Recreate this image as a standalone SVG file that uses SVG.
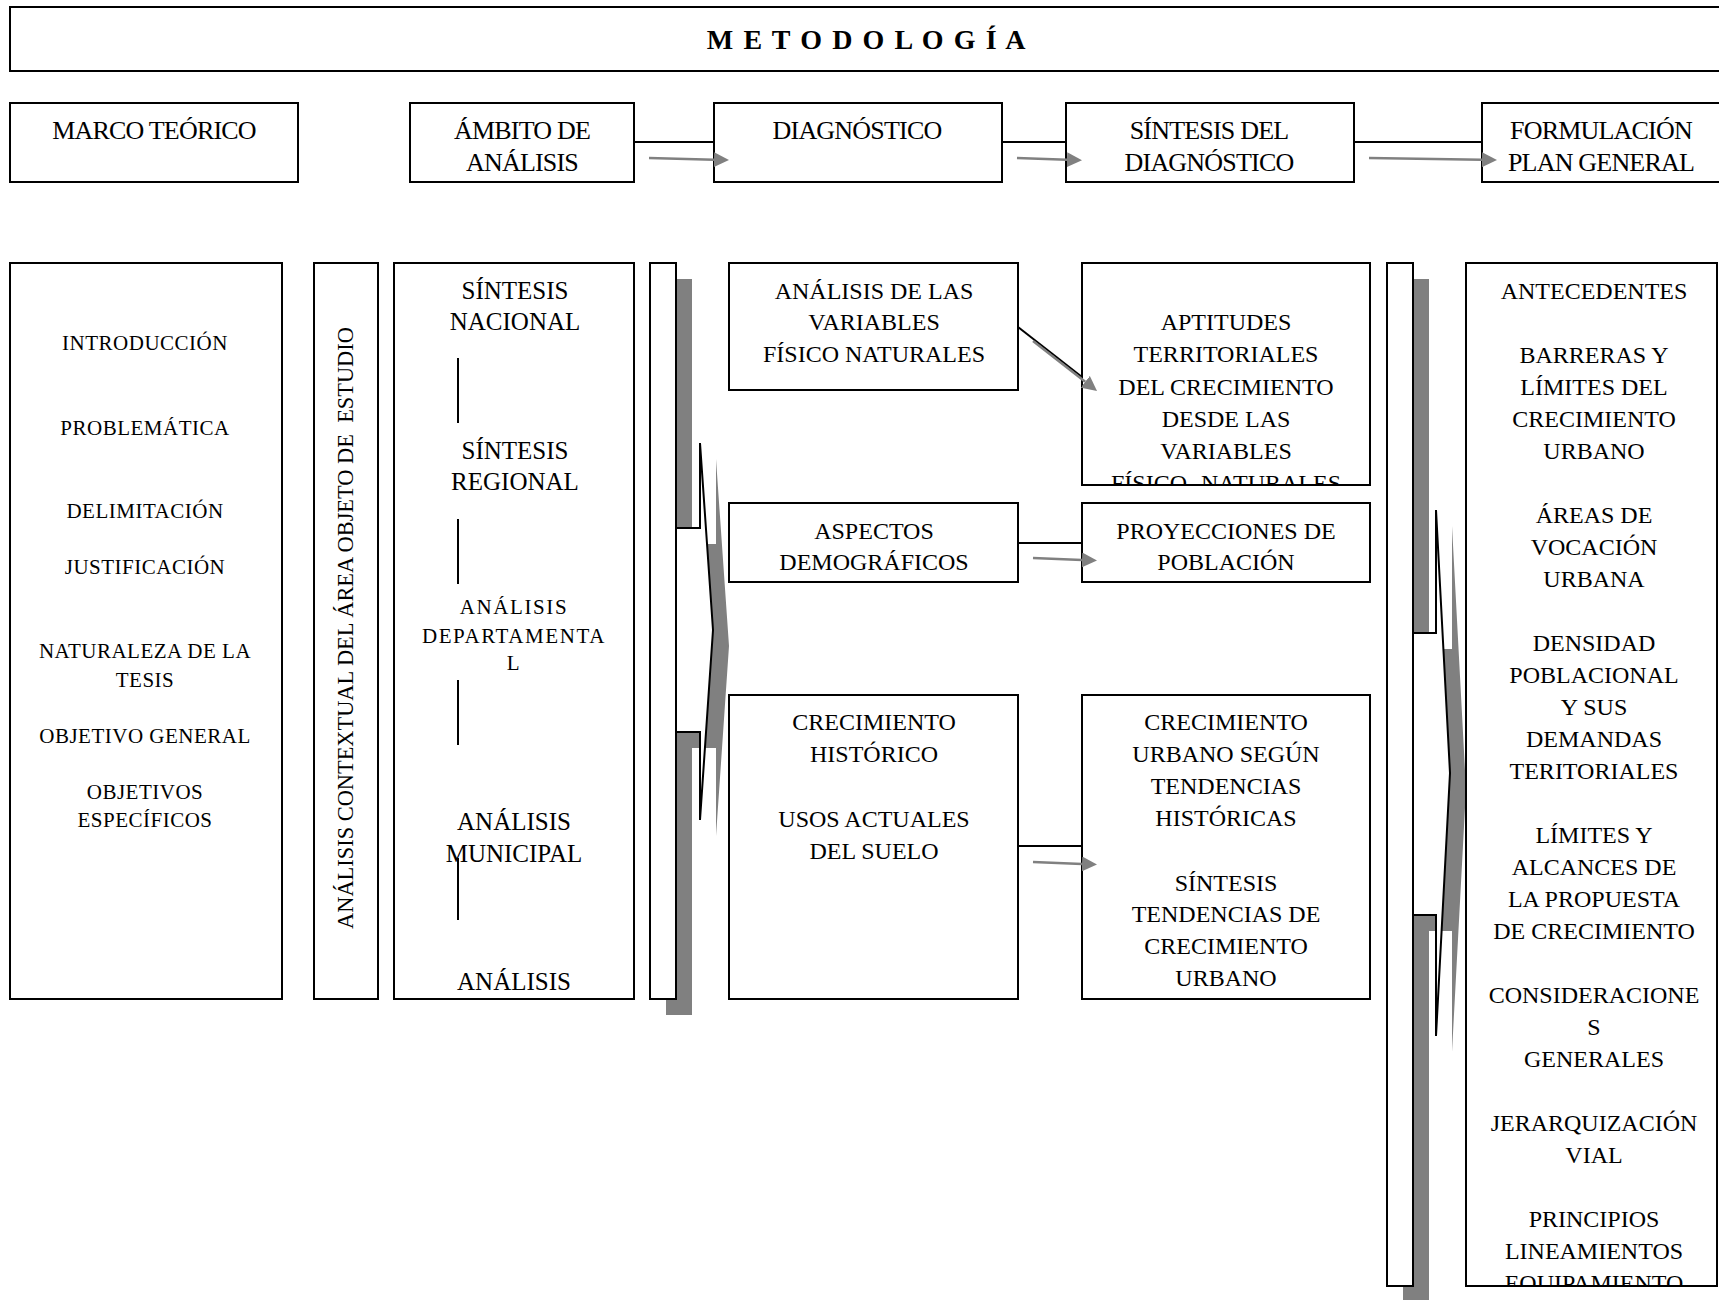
<svg xmlns="http://www.w3.org/2000/svg" width="1719" height="1300" viewBox="0 0 1719 1300">
<style>
.box{fill:#fff;stroke:#000;stroke-width:2}
.sh{fill:#808080;stroke:none}
.t{font-family:"Liberation Serif","Times New Roman",serif;fill:#000;text-anchor:middle}
.f26{font-size:26px;letter-spacing:-0.8px}
.f25{font-size:25px}
.f24{font-size:24px}
.f21{font-size:21px;letter-spacing:0.5px}
.f21w{font-size:21px;letter-spacing:1.6px}
.title{font-size:28px;font-weight:bold;letter-spacing:1.6px}
.conn{stroke:#000;stroke-width:2;fill:none}
.ga{stroke:#808080;stroke-width:2.5;fill:none;marker-end:url(#gh)}
.brace{fill:#fff;stroke:#000;stroke-width:2;stroke-linejoin:miter}
</style>
<defs>
<marker id="gh" markerUnits="userSpaceOnUse" markerWidth="15" markerHeight="15" refX="0" refY="7.5" orient="auto" viewBox="0 0 15 15">
<path d="M0,0 L15,7.5 L0,15 z" fill="#808080"/>
</marker>
<clipPath id="clipApt"><rect x="1083" y="264" width="286" height="220"/></clipPath>
<clipPath id="clipRight"><rect x="1467" y="264" width="249" height="1021"/></clipPath>
</defs>
<rect width="1719" height="1300" fill="#fff"/>

<g id="title">
<rect class="box" x="10" y="7" width="1712" height="64"/>
<text class="t title" x="867" y="49">M E T O D O L O G Í A</text>
</g>

<g id="marco-teorico">
<rect class="box" x="10" y="103" width="288" height="79"/>
<text class="t f26" x="154" y="139">MARCO TEÓRICO</text>
</g>
<g id="ambito">
<rect class="box" x="410" y="103" width="224" height="79"/>
<text class="t f26" x="522" y="139">ÁMBITO DE</text>
<text class="t f26" x="522" y="171">ANÁLISIS</text>
</g>
<g id="diagnostico">
<rect class="box" x="714" y="103" width="288" height="79"/>
<text class="t f26" x="857" y="139">DIAGNÓSTICO</text>
</g>
<g id="sintesis-diagnostico">
<rect class="box" x="1066" y="103" width="288" height="79"/>
<text class="t f26" x="1209" y="139">SÍNTESIS DEL</text>
<text class="t f26" x="1209" y="171">DIAGNÓSTICO</text>
</g>
<g id="formulacion">
<rect class="box" x="1482" y="103" width="240" height="79"/>
<text class="t f26" x="1601" y="139">FORMULACIÓN</text>
<text class="t f26" x="1601" y="171">PLAN GENERAL</text>
</g>

<g id="marco-contenido">
<rect class="box" x="10" y="263" width="272" height="736"/>
<text class="t f21" x="145" y="350">INTRODUCCIÓN</text>
<text class="t f21" x="145" y="435">PROBLEMÁTICA</text>
<text class="t f21" x="145" y="518">DELIMITACIÓN</text>
<text class="t f21" x="145" y="574">JUSTIFICACIÓN</text>
<text class="t f21" x="145" y="658">NATURALEZA DE LA</text>
<text class="t f21" x="145" y="687">TESIS</text>
<text class="t f21" x="145" y="743">OBJETIVO GENERAL</text>
<text class="t f21" x="145" y="799">OBJETIVOS</text>
<text class="t f21" x="145" y="827">ESPECÍFICOS</text>
</g>

<g id="analisis-contextual">
<rect class="box" x="314" y="263" width="64" height="736"/>
<text class="t" font-size="22.4" x="0" y="0" xml:space="preserve" transform="translate(353,628) rotate(-90)">ANÁLISIS CONTEXTUAL DEL ÁREA OBJETO DE  ESTUDIO</text>
</g>

<g id="escalas">
<rect class="box" x="394" y="263" width="240" height="736"/>
<text class="t f25" x="515" y="299">SÍNTESIS</text>
<text class="t f25" x="515" y="330">NACIONAL</text>
<line class="conn" x1="458" y1="358" x2="458" y2="423"/>
<text class="t f25" x="515" y="459">SÍNTESIS</text>
<text class="t f25" x="515" y="490">REGIONAL</text>
<line class="conn" x1="458" y1="519" x2="458" y2="584"/>
<text class="t f21w" x="514" y="614">ANÁLISIS</text>
<text class="t f21w" x="514" y="643">DEPARTAMENTA</text>
<text class="t f21w" x="514" y="670">L</text>
<line class="conn" x1="458" y1="680" x2="458" y2="745"/>
<text class="t f25" x="514" y="830">ANÁLISIS</text>
<text class="t f25" x="514" y="862">MUNICIPAL</text>
<line class="conn" x1="458" y1="858" x2="458" y2="920"/>
<text class="t f25" x="514" y="990">ANÁLISIS</text>
</g>

<g id="llave-1">
<rect class="sh" x="666" y="279" width="26" height="736"/>
<polygon class="sh" points="692,544 716,544 716,459 729,646 716,836 716,748 692,748"/>
<rect class="box" x="650" y="263" width="26" height="736"/>
<polygon class="brace" points="676,528 700,528 700,443 713,630 700,820 700,732 676,732"/>
</g>

<g id="variables-fisico">
<rect class="box" x="729" y="263" width="289" height="127"/>
<text class="t f24" x="874" y="299">ANÁLISIS DE LAS</text>
<text class="t f24" x="874" y="330">VARIABLES</text>
<text class="t f24" x="874" y="362">FÍSICO NATURALES</text>
</g>
<g id="aptitudes">
<rect class="box" x="1082" y="263" width="288" height="222"/>
<g clip-path="url(#clipApt)">
<text class="t f24" x="1226" y="330">APTITUDES</text>
<text class="t f24" x="1226" y="362">TERRITORIALES</text>
<text class="t f24" x="1226" y="395">DEL CRECIMIENTO</text>
<text class="t f24" x="1226" y="427">DESDE LAS</text>
<text class="t f24" x="1226" y="459">VARIABLES</text>
<text class="t f24" x="1226" y="491">FÍSICO- NATURALES</text>
</g>
</g>
<g id="aspectos">
<rect class="box" x="729" y="503" width="289" height="79"/>
<text class="t f24" x="874" y="539">ASPECTOS</text>
<text class="t f24" x="874" y="570">DEMOGRÁFICOS</text>
</g>
<g id="proyecciones">
<rect class="box" x="1082" y="503" width="288" height="79"/>
<text class="t f24" x="1226" y="539">PROYECCIONES DE</text>
<text class="t f24" x="1226" y="570">POBLACIÓN</text>
</g>
<g id="crecimiento-historico">
<rect class="box" x="729" y="695" width="289" height="304"/>
<text class="t f24" x="874" y="730">CRECIMIENTO</text>
<text class="t f24" x="874" y="762">HISTÓRICO</text>
<text class="t f24" x="874" y="827">USOS ACTUALES</text>
<text class="t f24" x="874" y="859">DEL SUELO</text>
</g>
<g id="crecimiento-urbano">
<rect class="box" x="1082" y="695" width="288" height="304"/>
<text class="t f24" x="1226" y="730">CRECIMIENTO</text>
<text class="t f24" x="1226" y="762">URBANO SEGÚN</text>
<text class="t f24" x="1226" y="794">TENDENCIAS</text>
<text class="t f24" x="1226" y="826">HISTÓRICAS</text>
<text class="t f24" x="1226" y="891">SÍNTESIS</text>
<text class="t f24" x="1226" y="922">TENDENCIAS DE</text>
<text class="t f24" x="1226" y="954">CRECIMIENTO</text>
<text class="t f24" x="1226" y="986">URBANO</text>
</g>

<g id="llave-2">
<rect class="sh" x="1403" y="279" width="26" height="1023"/>
<polygon class="sh" points="1429,649 1452,649 1452,526 1466,789 1452,1052 1452,931 1429,931"/>
<rect class="box" x="1387" y="263" width="26" height="1023"/>
<polygon class="brace" points="1413,633 1436,633 1436,510 1450,773 1436,1036 1436,915 1413,915"/>
</g>

<g id="plan-general">
<rect class="box" x="1466" y="263" width="251" height="1023"/>
<g clip-path="url(#clipRight)">
<text class="t f24" x="1594" y="299">ANTECEDENTES</text>
<text class="t f24" x="1594" y="363">BARRERAS Y</text>
<text class="t f24" x="1594" y="395">LÍMITES DEL</text>
<text class="t f24" x="1594" y="427">CRECIMIENTO</text>
<text class="t f24" x="1594" y="459">URBANO</text>
<text class="t f24" x="1594" y="523">ÁREAS DE</text>
<text class="t f24" x="1594" y="555">VOCACIÓN</text>
<text class="t f24" x="1594" y="587">URBANA</text>
<text class="t f24" x="1594" y="651">DENSIDAD</text>
<text class="t f24" x="1594" y="683">POBLACIONAL</text>
<text class="t f24" x="1594" y="715">Y SUS</text>
<text class="t f24" x="1594" y="747">DEMANDAS</text>
<text class="t f24" x="1594" y="779">TERITORIALES</text>
<text class="t f24" x="1594" y="843">LÍMITES Y</text>
<text class="t f24" x="1594" y="875">ALCANCES DE</text>
<text class="t f24" x="1594" y="907">LA PROPUESTA</text>
<text class="t f24" x="1594" y="939">DE CRECIMIENTO</text>
<text class="t f24" x="1594" y="1003">CONSIDERACIONE</text>
<text class="t f24" x="1594" y="1035">S</text>
<text class="t f24" x="1594" y="1067">GENERALES</text>
<text class="t f24" x="1594" y="1131">JERARQUIZACIÓN</text>
<text class="t f24" x="1594" y="1163">VIAL</text>
<text class="t f24" x="1594" y="1227">PRINCIPIOS</text>
<text class="t f24" x="1594" y="1259">LINEAMIENTOS</text>
<text class="t f24" x="1594" y="1291">EQUIPAMIENTO</text>
</g>
</g>

<g id="connectors">
<line class="conn" x1="634" y1="142" x2="714" y2="142"/>
<line class="conn" x1="1002" y1="142" x2="1066" y2="142"/>
<line class="conn" x1="1354" y1="142" x2="1482" y2="142"/>
<line class="conn" x1="1018" y1="327" x2="1082" y2="377"/>
<line class="conn" x1="1018" y1="543" x2="1082" y2="543"/>
<line class="conn" x1="1018" y1="846" x2="1082" y2="846"/>
<line class="ga" x1="649" y1="158" x2="714" y2="159.7"/>
<line class="ga" x1="1017" y1="158" x2="1067" y2="159.7"/>
<line class="ga" x1="1369" y1="158" x2="1482" y2="159.7"/>
<line class="ga" x1="1033" y1="341" x2="1085.2" y2="381.8"/>
<line class="ga" x1="1033" y1="558" x2="1082" y2="560"/>
<line class="ga" x1="1033" y1="862" x2="1082" y2="864"/>
</g>
</svg>
